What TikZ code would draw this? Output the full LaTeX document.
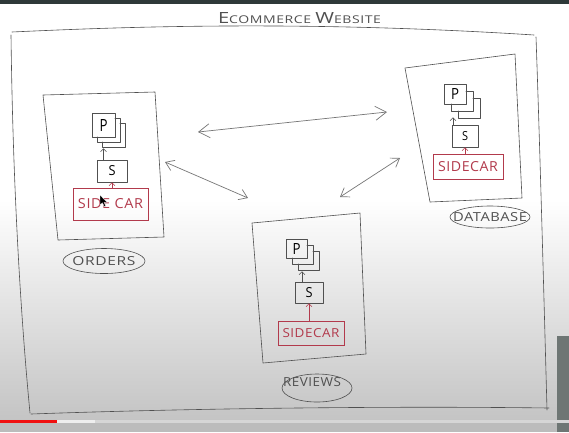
\documentclass[tikz,border=0pt]{standalone}
\usepackage{fontspec}
\usepackage{graphicx}
\newfontfamily\handf[LetterSpace=4.0]{Open Sans}
\usetikzlibrary{arrows.meta,shapes.geometric}
\definecolor{pencil}{HTML}{505050}
\definecolor{arrowgray}{HTML}{767676}
\definecolor{sred}{HTML}{B23A4C}
\definecolor{bgbot}{HTML}{C4C4C4}
\definecolor{topbar}{HTML}{2E3939}
\definecolor{sidebar}{HTML}{6E7674}
\definecolor{barred}{HTML}{F01010}
\definecolor{barbase}{HTML}{D6D6D6}
\definecolor{barbuf}{HTML}{EEEEEE}
\definecolor{belowbar}{HTML}{BCBCBC}
\newcommand\fitt[3]{\resizebox{#1pt}{#2pt}{\handf #3}}
\newcommand\pstackback[5]{%
 \draw[pen] (#1+#3,#2+#5) -- (#1+#3+#5,#2+#5) -- (#1+#3+#5,#2+#4+#5) -- (#1+#5,#2+#4+#5) -- (#1+#5,#2+#4);
 \draw[pen] (#1+#3+#5,#2+2*#5) -- (#1+#3+2*#5,#2+2*#5) -- (#1+#3+2*#5,#2+#4+2*#5) -- (#1+2*#5,#2+#4+2*#5) -- (#1+2*#5,#2+#4+#5);
}
\begin{document}
\begin{tikzpicture}[x=1pt,y=-1pt,
 pen/.style={draw=pencil,line width=0.6pt,line join=round,line cap=round},
 redbox/.style={draw=sred,line width=0.7pt,inner sep=0pt,text=sred},
 blk/.style={pen,inner sep=0pt},
 lbl/.style={inner sep=0pt,text=pencil},
 oval/.style={pen,ellipse,inner sep=0pt},
 tinyarrow/.style={draw=pencil,line width=0.6pt,-{Straight Barb[length=3pt,width=6pt]}},
 redarrow/.style={draw=sred,line width=0.6pt,-{Straight Barb[length=3pt,width=6pt]}},
 bigarrow/.style={draw=arrowgray,line width=0.7pt,{Straight Barb[length=11pt,width=14pt]}-{Straight Barb[length=11pt,width=14pt]}},
 midarrow/.style={draw=arrowgray,line width=0.7pt,{Straight Barb[length=8pt,width=11pt]}-{Straight Barb[length=8pt,width=11pt]}},
]
\useasboundingbox (0,0) rectangle (569,432);
% screen background
\fill[white] (0,0) rectangle (569,432);
\shade[top color=white,bottom color=bgbot] (0,200) rectangle (569,420);
\fill[belowbar] (0,422.5) rectangle (569,432);
\fill[topbar] (0,0) rectangle (569,4);
\fill[sidebar] (557,336) rectangle (569,432);
\fill[barbase] (0,419.5) rectangle (569,422.5);
\fill[barbuf] (57,419.5) rectangle (95,422.5);
\fill[barred] (0,419.5) rectangle (57,422.5);

% outer frame
\draw[pen] (12,32) .. controls (120,27) and (300,20) .. (534,35);
\draw[pen] (536,37) .. controls (540,150) and (544,300) .. (547,410);
\draw[pen] (549,408) .. controls (400,406) and (200,408) .. (31,414);
\draw[pen] (11,35) .. controls (13,200) and (22,330) .. (30,413);
\node[lbl] (title) at (299.5,23.5) [anchor=south] {\resizebox{163pt}{11pt}{\handf{\Large E}COMMERCE {\Large W}EBSITE}};

% service boxes
\draw[pen] (43,95) -- (155,92) -- (164,237) -- (58,240) -- cycle;
\draw[pen] (405,68) -- (515,54) -- (522,198) -- (430,202) -- cycle;
\draw[pen] (252,223) -- (360,213) -- (366,354) -- (263,363) -- cycle;

% ORDERS
\pstackback{92}{113}{23}{24}{5}
\node[blk,minimum width=23pt,minimum height=24pt] (pO) at (103.5,125) {\fitt{8}{12}{P}};
\node[blk,minimum width=30pt,minimum height=22pt] (sO) at (112,171) {\fitt{7}{10}{S}};
\node[redbox,minimum width=75pt,minimum height=32pt] (sideO) at (110.5,204) {\fitt{65}{10}{SIDE CAR}};
\draw[tinyarrow] (pO.south |- sO.north) -- ([yshift=-11pt]pO.south);
\draw[redarrow] (sO.south |- sideO.north) -- (sO.south);
\node[oval,minimum width=82pt,minimum height=25pt] (eO) at (104,261) {};
\node[lbl] (tO) at (104,261) {\fitt{63}{9}{ORDERS}};

% DATABASE
\pstackback{444}{84}{22}{20}{7}
\node[blk,minimum width=22pt,minimum height=20pt] (pD) at (455,94) {\fitt{8}{11}{P}};
\node[blk,minimum width=26pt,minimum height=22pt] (sD) at (465,136) {\fitt{6}{9}{S}};
\node[redbox,minimum width=70pt,minimum height=25pt] (sideD) at (468,166.5) {\fitt{60}{10}{SIDECAR}};
\draw[tinyarrow] ([xshift=-2pt]pD.south |- sD.north) -- ([xshift=-2pt,yshift=-13pt]pD.south);
\draw[redarrow] (sD.south |- sideD.north) -- (sD.south);
\node[oval,minimum width=80pt,minimum height=22pt] (eD) at (490,217) {};
\node[lbl] (tD) at (490,217) {\fitt{74}{9}{DATABASE}};

% REVIEWS
\pstackback{286}{239}{21}{19}{6}
\node[blk,minimum width=21pt,minimum height=19pt] (pR) at (296.5,248.5) {\fitt{8}{11}{P}};
\node[blk,minimum width=28pt,minimum height=21pt] (sR) at (309,292.5) {\fitt{7}{10}{S}};
\node[redbox,minimum width=66pt,minimum height=24pt] (sideR) at (311,333) {\fitt{57}{9}{SIDECAR}};
\draw[tinyarrow] ([xshift=5.5pt]pR.south |- sR.north) -- ([xshift=5.5pt,yshift=-13pt]pR.south);
\draw[redarrow] (sR.south |- sideR.north) -- (sR.south);
\node[oval,minimum width=70pt,minimum height=28pt] (eR) at (317,388) {};
\node[lbl] (tR) at (312,382) {\fitt{58}{9}{REVIEWS}};

% connectors between services
\coordinate (aOl) at (198,132);
\coordinate (aDr) at (387,112);
\coordinate (bOl) at (165,162);
\coordinate (bRr) at (248,198);
\coordinate (cDl) at (400,158);
\coordinate (cRr) at (340,197);
\draw[bigarrow] (aOl) -- (aDr);
\draw[midarrow] (bOl) -- (bRr);
\draw[midarrow] (cDl) -- (cRr);

% mouse pointer
\fill[black,draw=white,line width=0.3pt] (100,195) -- (100,205) -- (102.5,202.8) -- (104.3,206.8) -- (105.8,206.1) -- (104,202.3) -- (107.2,202.3) -- cycle;
\end{tikzpicture}
\end{document}
